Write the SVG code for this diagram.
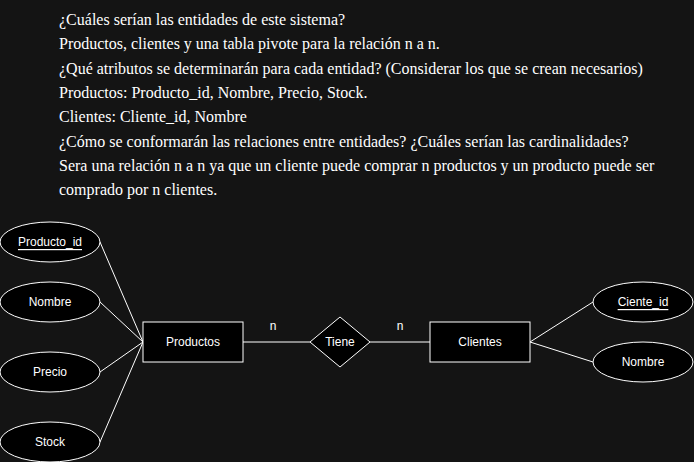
<svg xmlns="http://www.w3.org/2000/svg" width="694" height="462" viewBox="0 0 694 462">
<style>
.bg{fill:#141414}
.shape{fill:#000;stroke:#fff;stroke-width:1}
.edge{stroke:#fff;stroke-width:1;fill:none}
.lbl{font-family:"Liberation Sans",Arial,sans-serif;font-size:12px;fill:#fff;text-anchor:middle;dominant-baseline:central}
.u{text-decoration:underline}
.para{font-family:"Liberation Serif","Times New Roman",serif;font-size:16px;fill:#fff}
</style>
<rect class="bg" x="0" y="0" width="694" height="462"/>
<g id="text-block" class="para">
<text x="59" y="25">¿Cuáles serían las entidades de este sistema?</text>
<text x="59" y="49">Productos, clientes y una tabla pivote para la relación n a n.</text>
<text x="59" y="74">¿Qué atributos se determinarán para cada entidad? (Considerar los que se crean necesarios)</text>
<text x="59" y="98">Productos: Producto_id, Nombre, Precio, Stock.</text>
<text x="59" y="122">Clientes: Cliente_id, Nombre</text>
<text x="59" y="147">¿Cómo se conformarán las relaciones entre entidades? ¿Cuáles serían las cardinalidades?</text>
<text x="59" y="171">Sera una relación n a n ya que un cliente puede comprar n productos y un producto puede ser</text>
<text x="59" y="195">comprado por n clientes.</text>
</g>
<g id="connectors">
<line class="edge" x1="100" y1="242" x2="143" y2="342"/>
<line class="edge" x1="100" y1="302" x2="143" y2="342"/>
<line class="edge" x1="100" y1="372" x2="143" y2="342"/>
<line class="edge" x1="100" y1="442" x2="143" y2="342"/>
<line class="edge" x1="243" y1="342" x2="310" y2="342"/>
<line class="edge" x1="370" y1="342" x2="430" y2="342"/>
<line class="edge" x1="530" y1="342" x2="593" y2="302"/>
<line class="edge" x1="530" y1="342" x2="593" y2="362"/>
<text class="lbl" x="273" y="326">n</text>
<text class="lbl" x="400" y="326">n</text>
</g>
<g id="producto_id"><ellipse class="shape" cx="50" cy="242" rx="50" ry="20"/><text class="lbl u" x="50" y="242">Producto_id</text></g>
<g id="nombre-p"><ellipse class="shape" cx="50" cy="302" rx="50" ry="20"/><text class="lbl" x="50" y="302">Nombre</text></g>
<g id="precio"><ellipse class="shape" cx="50" cy="372" rx="50" ry="20"/><text class="lbl" x="50" y="372">Precio</text></g>
<g id="stock"><ellipse class="shape" cx="50" cy="442" rx="50" ry="20"/><text class="lbl" x="50" y="442">Stock</text></g>
<g id="productos"><rect class="shape" x="143" y="322" width="100" height="40"/><text class="lbl" x="193" y="342">Productos</text></g>
<g id="tiene"><polygon class="shape" points="340,317 370,342 340,367 310,342"/><text class="lbl" x="340" y="342">Tiene</text></g>
<g id="clientes"><rect class="shape" x="430" y="322" width="100" height="40"/><text class="lbl" x="480" y="342">Clientes</text></g>
<g id="cliente_id"><ellipse class="shape" cx="643" cy="302" rx="50" ry="20"/><text class="lbl u" x="643" y="302">Ciente_id</text></g>
<g id="nombre-c"><ellipse class="shape" cx="643" cy="362" rx="50" ry="20"/><text class="lbl" x="643" y="362">Nombre</text></g>
</svg>
